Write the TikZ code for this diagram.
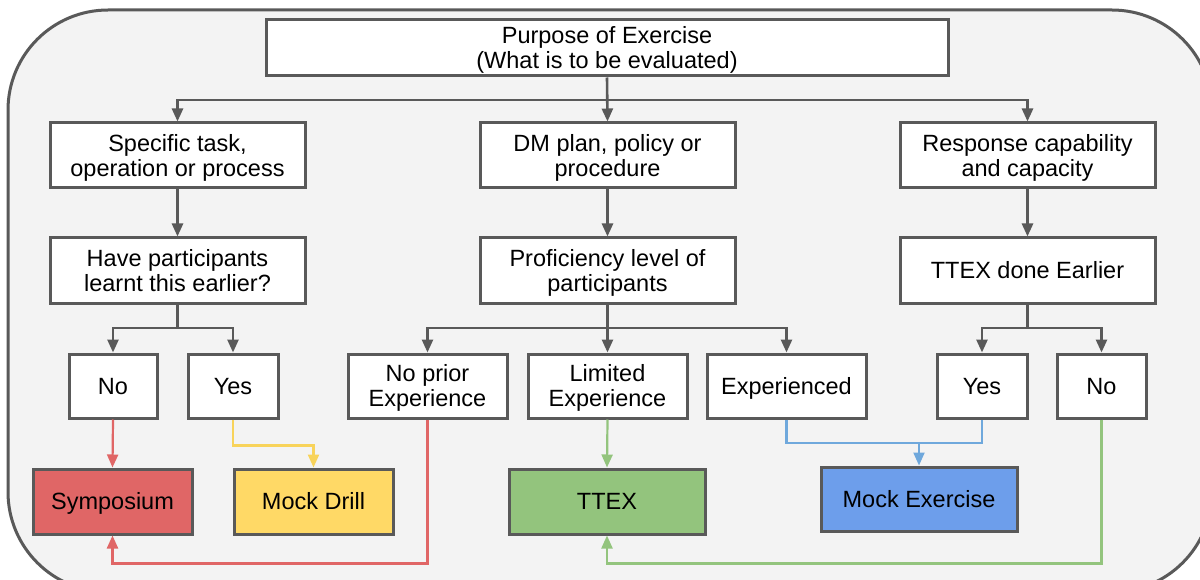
\documentclass[tikz,border=0pt]{standalone}
\usepackage{fontspec}
\setmainfont{Liberation Sans}
\usetikzlibrary{arrows.meta}
\definecolor{edge}{HTML}{595959}
\definecolor{panel}{HTML}{F3F3F3}
\definecolor{symfill}{HTML}{E06666}
\definecolor{drillfill}{HTML}{FFD966}
\definecolor{ttexfill}{HTML}{93C47D}
\definecolor{mockfill}{HTML}{6D9EEB}
\definecolor{redline}{HTML}{E06666}
\definecolor{yellowline}{HTML}{F8D35A}
\definecolor{greenline}{HTML}{93C47D}
\definecolor{blueline}{HTML}{6FA8DC}
\begin{document}
\begin{tikzpicture}[x=1pt,y=-1pt,
  % the struts give the text block the full ascent of its first line
  % and the full descent of its last line (value: height of the block)
  box/.style={draw=edge, line width=3pt, fill=white, align=center,
    inner sep=0pt, text=black,
    font=\fontsize{23.5}{25}\selectfont,
    execute at begin node={\rule{0pt}{#1}},
    execute at end node={\rule[-5pt]{0pt}{0pt}}},
  box/.default=21.3pt,
  wire/.style={draw=edge, line width=2.6pt},
  link/.style={wire, -{Triangle[length=13pt,width=11pt]}},
  cwire/.style={line width=2.2pt},
  clink/.style={cwire, -{Triangle[length=13pt,width=11pt]}}]

\useasboundingbox (0,0) rectangle (1200,580);
\clip (0,0) rectangle (1200,580);

% panel behind the chart
\draw[fill=panel, draw=edge, line width=3pt, rounded corners=100pt]
  (8,10) rectangle (1212,592);

% top level
\node[box=46.3pt, minimum width=682pt, minimum height=56pt] (top) at (607,48)
  {Purpose of Exercise\\(What is to be evaluated)};

% second level
\node[box=46.3pt, minimum width=255pt, minimum height=65pt] (spec) at (177.5,155.5)
  {Specific task,\\operation or process};
\node[box=46.3pt, minimum width=255pt, minimum height=65pt] (dm) at (607.5,155.5)
  {DM plan, policy or\\procedure};
\node[box=46.3pt, minimum width=255pt, minimum height=65pt] (resp) at (1027.5,155.5)
  {Response capability\\and capacity};

% third level
\node[box=46.3pt, minimum width=255pt, minimum height=65pt] (have) at (177.5,270.5)
  {Have participants\\learnt this earlier?};
\node[box=46.3pt, minimum width=255pt, minimum height=65pt] (prof) at (607.5,270.5)
  {Proficiency level of\\participants};
\node[box, minimum width=255pt, minimum height=65pt] (done) at (1027.5,270.5)
  {TTEX done Earlier};

% answers
\node[box, minimum width=88pt, minimum height=64pt] (noA) at (113,386) {No};
\node[box, minimum width=90pt, minimum height=64pt] (yesA) at (233,386) {Yes};
\node[box=46.3pt, minimum width=159pt, minimum height=64pt] (noprior) at (427.5,386)
  {No prior\\Experience};
\node[box=46.3pt, minimum width=159pt, minimum height=64pt] (limited) at (607.5,386)
  {Limited\\Experience};
\node[box, minimum width=159pt, minimum height=64pt] (exper) at (786.5,386)
  {Experienced};
\node[box, minimum width=90pt, minimum height=64pt] (yesB) at (982,386) {Yes};
\node[box, minimum width=89pt, minimum height=64pt] (noB) at (1101.5,386) {No};

% exercise types
\node[box, fill=symfill, minimum width=159pt, minimum height=65pt] (symp)
  at (112.5,501.5) {Symposium};
\node[box, fill=drillfill, minimum width=159pt, minimum height=65pt] (drill)
  at (313.5,501.5) {Mock Drill};
\node[box, fill=ttexfill, minimum width=196pt, minimum height=65pt] (ttex)
  at (607,501.5) {TTEX};
\node[box, fill=mockfill, minimum width=196pt, minimum height=64pt] (mock)
  at (919,499) {Mock Exercise};

% grey tree connectors
\coordinate (j0) at (607,100);
\draw[link] (top.south) -- (dm.north);
\draw[link] (j0) -| (spec.north);
\draw[link] (j0) -| (resp.north);

\draw[link] (spec) -- (have);
\draw[link] (dm) -- (prof);
\draw[link] (resp) -- (done);

\coordinate (j1) at (177.5,328);
\draw[wire] (have.south) -- (j1);
\draw[link] (j1) -| (noA.north);
\draw[link] (j1) -| (yesA.north);

\draw[link] (prof.south) -- (limited.north);
\coordinate (j2) at (607.5,328);
\draw[link] (j2) -| (noprior.north);
\draw[link] (j2) -| (exper.north);

\coordinate (j3) at (1027.5,328);
\draw[wire] (done.south) -- (j3);
\draw[link] (j3) -| (yesB.north);
\draw[link] (j3) -| (noB.north);

% coloured outcome connectors
\draw[clink, redline] (noA.south) -- (symp.north);
\draw[clink, redline] (noprior.south) -- ++(0,144) -| (symp.south);
\draw[clink, yellowline] (yesA.south) -- ++(0,26) -| (drill.north);
\draw[clink, greenline] (limited.south) -- (ttex.north);
\draw[clink, greenline] (noB.south) -- ++(0,144) -| (ttex.south);
\coordinate (jb) at (786.5,443);
\draw[cwire, blueline] (exper.south) -- (jb) -| (yesB.south);
\draw[clink, blueline] (jb -| mock.north) -- (mock.north);

\end{tikzpicture}
\end{document}
